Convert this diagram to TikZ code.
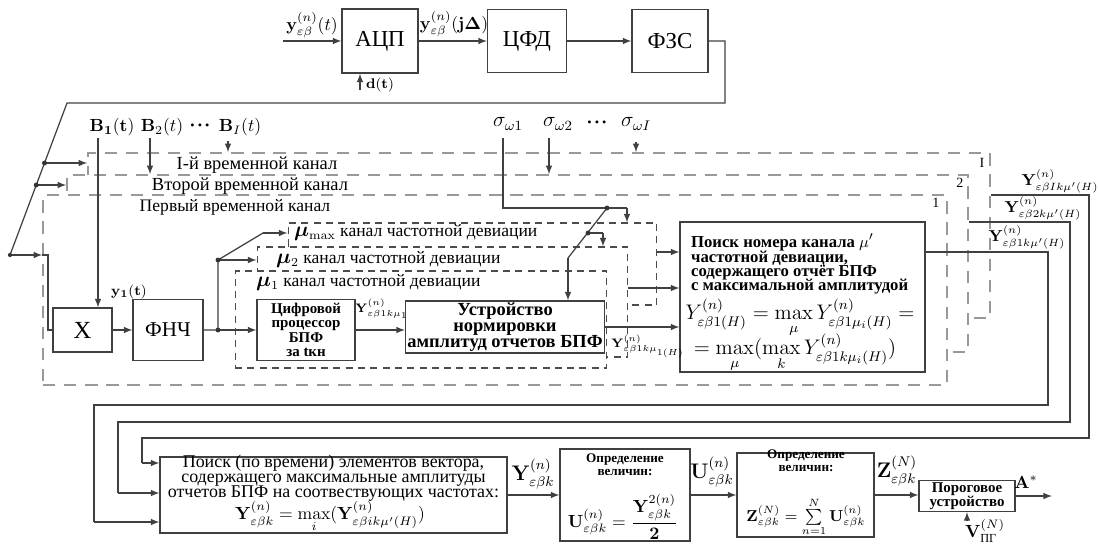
\documentclass[tikz,border=0pt]{standalone}
\usepackage{amsmath,amssymb}
\usepackage[no-math]{fontspec}
\setmainfont{Liberation Serif}
\usepackage{tikz}
\newcommand{\eb}{\varepsilon\beta}
\newcommand{\tightlines}{\lineskiplimit=-100pt\lineskip=0pt\relax}

\begin{document}
\begin{tikzpicture}[x=0.02cm,y=-0.02cm]
\tikzset{wire/.style = {draw=black!75, line width=0.7pt}}
\tikzset{edge/.style = {wire, ->, > = latex}}
\tikzset{blk/.style = {draw=black!75, line width=0.7pt, fill=white, align=center}}
\tikzset{tch/.style = {draw=black!40, fill=white, line width=1pt, dash pattern=on 7pt off 5pt}}
\tikzset{fch/.style = {draw=black!70, fill=white, line width=0.6pt, dash pattern=on 4pt off 3pt}}
\tikzstyle{every node}=[inner sep=1pt]
\useasboundingbox (0,0) rectangle (1099,548);

% top row
\node [blk, minimum width=1.52cm, minimum height=1.28cm, font=\fontsize{13}{13}\selectfont] at (380,41)(adc) {АЦП};
\node [blk, minimum width=1.58cm, minimum height=1.26cm, font=\fontsize{13}{13}\selectfont] at (527,41)(cfd) {ЦФД};
\node [blk, minimum width=1.52cm, minimum height=1.26cm, font=\fontsize{13}{13}\selectfont] at (670,41)(fzs) {ФЗС};
\node at (312,25)(ly) {$\mathbf{y}^{(n)}_{\eb}(t)$};
\node at (454,24)(lyj) {$\mathbf{y}^{(n)}_{\eb}(\mathbf{j}\boldsymbol{\Delta})$};
\node [font=\footnotesize] at (380,85)(ld) {$\mathbf{d(t)}$};

% time channels
\node [tch, minimum width=18.04cm, minimum height=3.3cm] at (539,235.5)(chI) {};
\node [tch, minimum width=18.02cm, minimum height=3.54cm] at (517.5,263.5)(ch2) {};
\node [tch, minimum width=18.08cm, minimum height=3.8cm] at (495,290)(ch1) {};
\node [font=\fontsize{10.5}{10.5}\selectfont] at (257,165)(lchI) {I-й временной канал};
\node [font=\fontsize{10.5}{10.5}\selectfont] at (250,186)(lch2) {Второй временной канал};
\node [font=\fontsize{10}{10}\selectfont] at (235,207)(lch1) {Первый временной канал};
\node [font=\footnotesize] at (982,163)(nI) {I};
\node [font=\footnotesize] at (960,183)(n2) {2};
\node [font=\footnotesize] at (936,203)(n1) {1};

% frequency channels
\node [fch, minimum width=7.38cm, minimum height=1.64cm] at (472.5,264)(mumax) {};
\node [fch, minimum width=7.42cm, minimum height=2.2cm] at (442.5,302)(mu2) {};
\node [fch, minimum width=7.44cm, minimum height=1.94cm] at (421,319.5)(mu1) {};
\node [anchor=west, font=\fontsize{10}{10}\selectfont] at (292,233)(lmumax) {{\large$\boldsymbol{\mu}$}$_{\max}$ канал частотной девиации};
\node [anchor=west, font=\fontsize{10}{10}\selectfont] at (274,260)(lmu2) {{\large$\boldsymbol{\mu}$}$_2$ канал частотной девиации};
\node [anchor=west, font=\fontsize{10}{10}\selectfont] at (254,283)(lmu1) {{\large$\boldsymbol{\mu}$}$_1$ канал частотной девиации};

% blocks of the first channel
\node [blk, minimum width=1.18cm, minimum height=0.88cm, font=\fontsize{14}{14}\selectfont] at (82.5,330)(mult) {X};
\node [blk, minimum width=1.4cm, minimum height=1.22cm, font=\fontsize{12}{12}\selectfont] at (168,330)(lpf) {ФНЧ};
\node [blk, minimum width=1.96cm, minimum height=1.22cm, font=\fontsize{8.5}{8.2}\selectfont\bfseries\tightlines] at (306,330)(fft) {Цифровой\\процессор\\БПФ\\за tкн};
\node [blk, minimum width=3.72cm, minimum height=1.0cm, font=\fontsize{10.5}{9}\selectfont\bfseries\tightlines] at (505,327)(norm) {Устройство\\нормировки\\амплитуд отчетов БПФ};
\node [blk, minimum width=4.9cm, minimum height=3.0cm] at (802.5,297)(search) {};
\node [anchor=north west, align=left, font=\fontsize{9.5}{8.2}\selectfont\bfseries\tightlines] at (689,232)(stxt) {Поиск номера канала $\mu'$\\частотной девиации,\\содержащего отчёт БПФ\\с максимальной амплитудой};
\node [font=\large] at (800,318)(sf1) {$Y^{(n)}_{\eb 1(H)} = \max\limits_{\mu} Y^{(n)}_{\eb 1\mu_i(H)} =$};
\node [font=\large] at (795,353)(sf2) {$= \max\limits_{\mu}(\max\limits_{k} Y^{(n)}_{\eb 1k\mu_i(H)})$};

% bottom row
\node [blk, minimum width=6.94cm, minimum height=1.52cm] at (333.5,495)(srch2) {};
\node [align=center, font=\fontsize{10.2}{8.5}\selectfont\tightlines] at (333.5,478)(s2txt) {Поиск (по времени) элементов вектора,\\содержащего максимальные амплитуды\\отчетов БПФ на соотвествующих частотах:};
\node at (330,517)(s2f) {$\mathbf{Y}^{(n)}_{\eb k} = \max\limits_{i}(\mathbf{Y}^{(n)}_{\eb ik\mu'(H)})$};
\node [blk, minimum width=2.6cm, minimum height=1.84cm] at (625,495)(ubox) {};
\node [align=center, font=\fontsize{7.5}{7.5}\selectfont\bfseries] at (625,465)(utit) {Определение\\величин:};
\node at (623,517)(uf) {$\mathbf{U}^{(n)}_{\eb k}=\dfrac{\mathbf{Y}^{2(n)}_{\eb k}}{\mathbf{2}}$};
\node [blk, minimum width=2.74cm, minimum height=1.68cm] at (805.5,495)(zbox) {};
\node [align=center, font=\fontsize{7.5}{7.5}\selectfont\bfseries] at (806,461)(ztit) {Определение\\величин:};
\node [font=\small] at (806,517)(zf) {$\mathbf{Z}^{(N)}_{\eb k}=\sum\limits_{n=1}^{N}\mathbf{U}^{(n)}_{\eb k}$};
\node [blk, minimum width=1.92cm, minimum height=0.62cm, font=\fontsize{8.5}{8}\selectfont\bfseries\tightlines] at (967,496)(thr) {Пороговое\\устройство};
\node [font=\large] at (533,474)(lyk) {$\mathbf{Y}^{(n)}_{\eb k}$};
\node [font=\large] at (712,472)(luk) {$\mathbf{U}^{(n)}_{\eb k}$};
\node [font=\large] at (897,471)(lzk) {$\mathbf{Z}^{(N)}_{\eb k}$};
\node at (1026,482)(la) {$\mathbf{A^*}$};
\node at (985,531)(lv) {$\mathbf{V}^{(N)}_{\text{ПГ}}$};

% inputs B and sigma
\node at (112,127)(lb1) {$\mathbf{B_1(t)}$};
\node at (162,127)(lb2) {$\mathbf{B}_2(t)$};
\node [font=\fontsize{7}{7}\selectfont] at (200,127)(lbd) {• • •};
\node at (240,127)(lbI) {$\mathbf{B}_I(t)$};
\node [font=\large] at (508,124)(ls1) {$\sigma_{\omega1}$};
\node [font=\large] at (558,124)(ls2) {$\sigma_{\omega2}$};
\node [font=\fontsize{7}{7}\selectfont] at (597,124)(lsd) {• • •};
\node [font=\large] at (636,124)(lsI) {$\sigma_{\omega I}$};

% coordinates
\coordinate (yin) at (283,41);
\coordinate (din) at (360,90);
\coordinate (fbA) at (725,41);
\coordinate (fbB) at (725,103);
\coordinate (fbC) at (67,103);
\coordinate (fbD) at (10,255);
\coordinate (tI) at (44.5,163);
\coordinate (t2) at (36.25,185);
\coordinate (xa) at (48,255);
\coordinate (xb) at (48,330);
\coordinate (b1s) at (98,138);
\coordinate (b2s) at (150,138);
\coordinate (bIs) at (228,141);
\coordinate (s1s) at (503,138);
\coordinate (s1a) at (503,208);
\coordinate (s1b) at (607,208);
\coordinate (s1c) at (627,208);
\coordinate (s1d) at (588,233);
\coordinate (s1e) at (568,258);
\coordinate (s1f) at (603,233);
\coordinate (s2s) at (549,138);
\coordinate (sIs) at (636,142);
\coordinate (f0) at (218,330);
\coordinate (f1) at (218,260);
\coordinate (f2) at (263,233);
\coordinate (mmo) at (657,252);
\coordinate (m2o) at (628,288);
\coordinate (r1a) at (1048,252);
\coordinate (r1b) at (1048,405);
\coordinate (r1c) at (94,405);
\coordinate (r1d) at (94,522);
\coordinate (r2a) at (1070,222);
\coordinate (r2b) at (1070,422);
\coordinate (r2c) at (118,422);
\coordinate (r2d) at (118,493);
\coordinate (r3a) at (1089,195);
\coordinate (r3b) at (1089,438);
\coordinate (r3c) at (142,438);
\coordinate (r3d) at (142,463);
\coordinate (aout) at (1052,496);
\coordinate (vin) at (967,520);

% connectors
\draw [edge] (yin) -- (adc);
\draw [edge] (din) -- (din |- adc.south);
\draw [edge] (adc) -- (cfd);
\draw [edge] (cfd) -- (fzs);
\draw [wire] (fzs) -- (fbA) -- (fbB) -- (fbC) -- (fbD);
\draw [edge] (tI) -- (tI -| chI.west);
\draw [edge] (t2) -- (t2 -| ch2.west);
\draw [edge] (fbD) -- (fbD -| ch1.west);
\draw [wire] (fbD -| ch1.west) -- (xa) -- (xb) -- (mult.west);
\draw [edge] (b1s) -- (b1s |- mult.north);
\draw [edge] (b2s) -- (b2s |- ch2.north);
\draw [edge] (bIs) -- (bIs |- chI.north);
\draw [wire] (s1s) -- (s1a) -- (s1c);
\draw [edge] (s1c) -- (s1c |- mumax.north);
\draw [wire] (s1b) -- (s1e);
\draw [edge] (s1e) -- (s1e |- norm.north);
\draw [wire] (s1d) -- (s1f);
\draw [edge] (s1f) -- (s1f |- mu2.north);
\draw [edge] (s2s) -- (s2s |- ch2.north);
\draw [edge] (sIs) -- (sIs |- chI.north);
\draw [edge] (mult) -- (lpf);
\node [font=\footnotesize] at (129,292)(ly1) {$\mathbf{y_1(t)}$};
\draw [wire] (lpf) -- (f0) -- (f1) -- (f2);
\draw [edge] (f0) -- (fft);
\draw [edge] (f1) -- (f1 -| mu2.west);
\draw [edge] (f2) -- (f2 -| mumax.west);
\draw [edge] (fft) -- (fft -| norm.west);
\node [font=\scriptsize] at (382,309)(lyfft) {$\mathbf{Y}^{(n)}_{\eb 1k\mu_1}$};
\draw [edge] (norm) -- (norm -| search.west);
\node [font=\scriptsize] at (648,346)(lynorm) {$\mathbf{Y}^{(n)}_{\eb 1k\mu_{1(H)}}$};
\draw [edge] (m2o) -- (m2o -| search.west);
\draw [edge] (mmo) -- (mmo -| search.west);
\draw [wire] (search.east |- r1a) -- (r1a) -- (r1b) -- (r1c) -- (r1d);
\draw [edge] (r1d) -- (r1d -| srch2.west);
\draw [wire] (ch2.east |- r2a) -- (r2a) -- (r2b) -- (r2c) -- (r2d);
\draw [edge] (r2d) -- (r2d -| srch2.west);
\draw [wire] (chI.east |- r3a) -- (r3a) -- (r3b) -- (r3c) -- (r3d);
\draw [edge] (r3d) -- (r3d -| srch2.west);
\node [font=\small] at (1060,181)(lyI) {$\mathbf{Y}^{(n)}_{\eb Ik\mu'(H)}$};
\node [font=\small] at (1043,208)(ly2) {$\mathbf{Y}^{(n)}_{\eb 2k\mu'(H)}$};
\node [font=\small] at (1027,237)(ly1k) {$\mathbf{Y}^{(n)}_{\eb 1k\mu'(H)}$};
\draw [edge] (srch2) -- (srch2 -| ubox.west);
\draw [edge] (ubox) -- (zbox);
\draw [edge] (zbox) -- (zbox -| thr.west);
\draw [edge] (thr.east |- aout) -- (aout);
\draw [edge] (vin) -- (thr);
\fill [black!80] (tI) circle (1.4pt) (t2) circle (1.4pt) (fbD) circle (1.2pt);
\fill [black!80] (f0) circle (1.4pt) (f1) circle (1.4pt);
\fill [black!80] (s1b) circle (1.4pt) (s1d) circle (1.4pt);
\end{tikzpicture}
\end{document}
